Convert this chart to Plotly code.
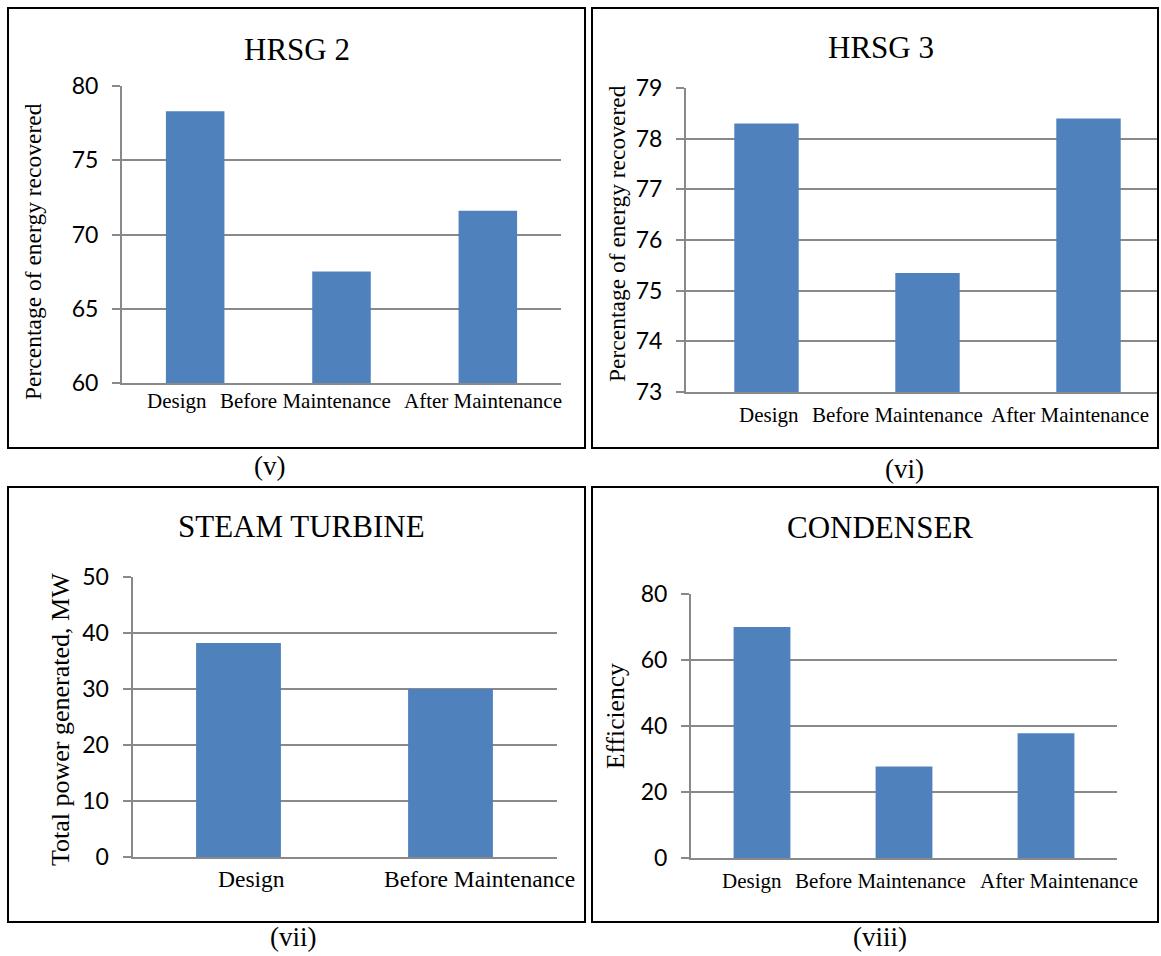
import plotly.graph_objects as go

W, H = 1161, 956

# ---------------- data ----------------
hrsg2_categories = ["Design", "Before Maintenance", "After Maintenance"]
hrsg2_values = [78.3, 67.5, 71.6]
hrsg2_ticks = [60, 65, 70, 75, 80]

hrsg3_categories = ["Design", "Before Maintenance", "After Maintenance"]
hrsg3_values = [78.3, 75.35, 78.4]
hrsg3_ticks = [73, 74, 75, 76, 77, 78, 79]

turbine_categories = ["Design", "Before Maintenance"]
turbine_values = [38.2, 30.0]
turbine_ticks = [0, 10, 20, 30, 40, 50]

condenser_categories = ["Design", "Before Maintenance", "After Maintenance"]
condenser_values = [70.0, 27.7, 37.8]
condenser_ticks = [0, 20, 40, 60, 80]

titles = ["HRSG 2", "HRSG 3", "STEAM TURBINE", "CONDENSER"]
captions = ["(v)", "(vi)", "(vii)", "(viii)"]
y_titles = ["Percentage of energy recovered", "Percentage of energy recovered",
            "Total power generated, MW", "Efficiency"]


def fx(px):
    return px / W


def fy(py):
    return 1 - py / H


BAR = "#4F81BD"
GRID = "#898989"
SERIF = "Liberation Serif, Times New Roman, serif"
SANS = "Lato, Carlito, Calibri, sans-serif"

panels = [
    dict(cats=hrsg2_categories, vals=hrsg2_values, ticks=hrsg2_ticks,
         x0=122, x1=561, xr=None, ybot=383, ytop=86,
         lab_shift=[-18.5, -36.5, -5], lab_dy=-18, lab_size=21,
         border=(8, 8, 585, 448),
         title_xy=(297, 49), cap_xy=(269, 466),
         ytitle_xy=(33, 252), ytitle_size=23.5),
    dict(cats=hrsg3_categories, vals=hrsg3_values, ticks=hrsg3_ticks,
         x0=686, x1=1158, xr=(-0.5, -0.5 + (1158 - 686) / 161.0), ybot=392, ytop=88,
         lab_shift=[2, -30.5, -19], lab_dy=-23, lab_size=21,
         border=(592, 8, 1158, 448),
         title_xy=(881, 47), cap_xy=(904, 469),
         ytitle_xy=(617, 234), ytitle_size=23.5),
    dict(cats=turbine_categories, vals=turbine_values, ticks=turbine_ticks,
         x0=132.5, x1=556.5, xr=None, ybot=857, ytop=577,
         lab_shift=[12.5, 28.5], lab_dy=-22, lab_size=23.5,
         border=(8, 487, 585, 922),
         title_xy=(301, 526), cap_xy=(293, 937),
         ytitle_xy=(60, 720), ytitle_size=26),
    dict(cats=condenser_categories, vals=condenser_values, ticks=condenser_ticks,
         x0=691, x1=1117, xr=None, ybot=858, ytop=594,
         lab_shift=[-10, -24, 12.5], lab_dy=-23, lab_size=21,
         border=(592, 487, 1158, 922),
         title_xy=(880, 527), cap_xy=(880, 937),
         ytitle_xy=(615, 716), ytitle_size=25.5),
]

fig = go.Figure()
layout = dict(
    width=W, height=H,
    margin=dict(l=0, r=0, t=0, b=0, pad=0, autoexpand=False),
    paper_bgcolor="white", plot_bgcolor="white",
    showlegend=False, bargap=0.6,
    annotations=[], shapes=[],
)

for i, p in enumerate(panels, start=1):
    xa = "x" if i == 1 else f"x{i}"
    ya = "y" if i == 1 else f"y{i}"
    fig.add_trace(go.Bar(x=p["cats"], y=p["vals"], marker=dict(color=BAR, line=dict(width=0)),
                         xaxis=xa, yaxis=ya, hoverinfo="skip"))
    xkey = "xaxis" if i == 1 else f"xaxis{i}"
    ykey = "yaxis" if i == 1 else f"yaxis{i}"
    xr = p["xr"] if p["xr"] else (-0.5, len(p["cats"]) - 0.5)
    layout[xkey] = dict(
        domain=[fx(p["x0"]), fx(p["x1"])], anchor=ya, range=list(xr),
        type="category", showticklabels=False, ticks="", showgrid=False,
        showline=True, linecolor=GRID, linewidth=2, zeroline=False, fixedrange=True,
        automargin=False,
    )
    layout[ykey] = dict(
        domain=[fy(p["ybot"]), fy(p["ytop"])], anchor=xa,
        range=[p["ticks"][0], p["ticks"][-1]], tickvals=p["ticks"],
        showgrid=True, gridcolor=GRID, gridwidth=2,
        showline=True, linecolor=GRID, linewidth=2, zeroline=False,
        ticks="outside", ticklen=8, tickwidth=2, tickcolor=GRID,
        ticklabelstandoff=9, automargin=False,
        tickfont=dict(family=SANS, size=23, color="black"), fixedrange=True,
    )
    # category labels
    for c, s in zip(p["cats"], p["lab_shift"]):
        layout["annotations"].append(dict(
            x=c, xref=xa, y=0, yref=f"{ya} domain", yanchor="middle", xanchor="center",
            xshift=s, yshift=p["lab_dy"], text=c, showarrow=False,
            font=dict(family=SERIF, size=p["lab_size"], color="black"),
        ))
    # title
    layout["annotations"].append(dict(
        x=fx(p["title_xy"][0]), y=fy(p["title_xy"][1]), xref="paper", yref="paper",
        xanchor="center", yanchor="middle", text=titles[i - 1], showarrow=False,
        font=dict(family=SERIF, size=31, color="black"),
    ))
    # caption
    layout["annotations"].append(dict(
        x=fx(p["cap_xy"][0]), y=fy(p["cap_xy"][1]), xref="paper", yref="paper",
        xanchor="center", yanchor="middle", text=captions[i - 1], showarrow=False,
        borderpad=0, font=dict(family=SERIF, size=27, color="black"),
    ))
    # y axis title
    layout["annotations"].append(dict(
        x=fx(p["ytitle_xy"][0]), y=fy(p["ytitle_xy"][1]), xref="paper", yref="paper",
        xanchor="center", yanchor="middle", textangle=-90, text=y_titles[i - 1],
        showarrow=False, font=dict(family=SERIF, size=p["ytitle_size"], color="black"),
    ))
    # border
    bx0, by0, bx1, by1 = p["border"]
    layout["shapes"].append(dict(
        type="rect", xref="paper", yref="paper",
        x0=fx(bx0), x1=fx(bx1), y0=fy(by1), y1=fy(by0),
        line=dict(color="black", width=2), fillcolor="rgba(0,0,0,0)", layer="above",
    ))

fig.update_layout(**layout)
fig.write_html(
    "out.html",
    config={"displayModeBar": False},
    post_script="document.body.style.margin='0';document.body.style.padding='0';"
                "document.documentElement.style.overflow='hidden';",
)
